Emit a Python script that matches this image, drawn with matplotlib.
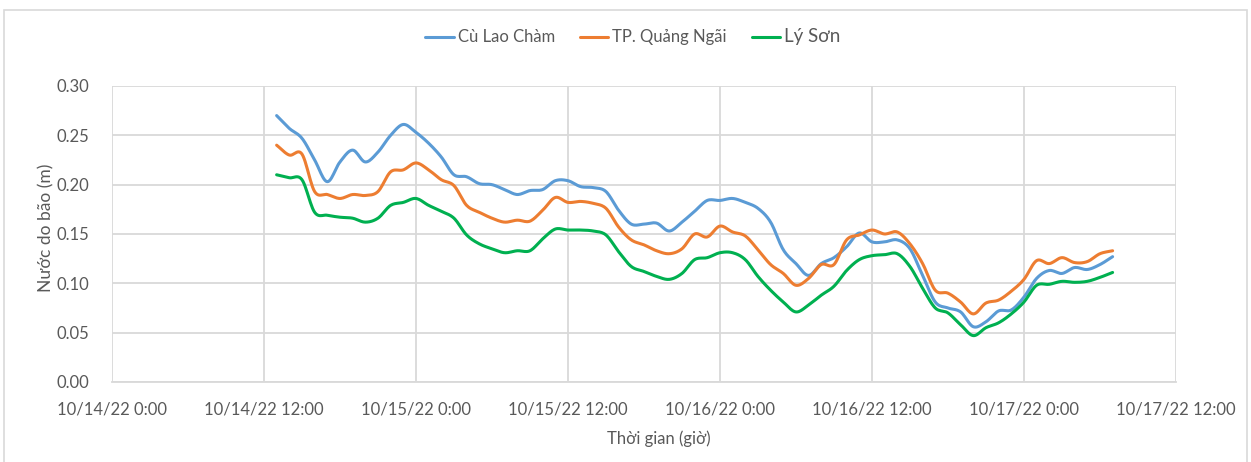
import datetime as dt

import matplotlib.pyplot as plt
import matplotlib.dates as mdates
import numpy as np
from matplotlib.patches import Rectangle

plt.rcParams['font.family'] = ['Lato', 'DejaVu Sans']

# hourly values from 10/14/22 13:00 to 10/17/22 07:00
start_time = dt.datetime(2022, 10, 14, 13)
series_names = ['Cù Lao Chàm', 'TP. Quảng Ngãi', 'Lý Sơn']

cu_lao_cham = [0.270, 0.257, 0.247, 0.225, 0.203, 0.223, 0.235, 0.223, 0.233, 0.250, 0.261, 0.253,
               0.242, 0.228, 0.210, 0.208, 0.201, 0.200, 0.195, 0.190, 0.194, 0.195, 0.204, 0.204,
               0.198, 0.197, 0.193, 0.174, 0.160, 0.160, 0.161, 0.153, 0.162, 0.173, 0.184, 0.184,
               0.186, 0.182, 0.176, 0.162, 0.134, 0.120, 0.108, 0.120, 0.126, 0.137, 0.151, 0.142,
               0.142, 0.144, 0.135, 0.108, 0.081, 0.075, 0.071, 0.056, 0.061, 0.072, 0.073, 0.086,
               0.105, 0.113, 0.110, 0.116, 0.114, 0.119, 0.127]

quang_ngai = [0.240, 0.230, 0.231, 0.193, 0.190, 0.186, 0.190, 0.189, 0.193, 0.213, 0.215, 0.222,
              0.215, 0.205, 0.199, 0.179, 0.172, 0.166, 0.162, 0.164, 0.163, 0.174, 0.187, 0.182,
              0.183, 0.181, 0.176, 0.157, 0.144, 0.139, 0.133, 0.130, 0.135, 0.150, 0.147, 0.158,
              0.152, 0.148, 0.134, 0.119, 0.110, 0.098, 0.105, 0.119, 0.119, 0.144, 0.149, 0.154,
              0.150, 0.152, 0.140, 0.120, 0.093, 0.090, 0.081, 0.069, 0.080, 0.083, 0.092, 0.104,
              0.123, 0.120, 0.126, 0.121, 0.122, 0.130, 0.133]

ly_son = [0.210, 0.207, 0.205, 0.172, 0.169, 0.167, 0.166, 0.162, 0.166, 0.179, 0.182, 0.186,
          0.179, 0.173, 0.166, 0.149, 0.140, 0.135, 0.131, 0.133, 0.133, 0.145, 0.155, 0.154,
          0.154, 0.153, 0.149, 0.132, 0.117, 0.112, 0.107, 0.104, 0.110, 0.124, 0.126, 0.131,
          0.131, 0.124, 0.107, 0.093, 0.081, 0.071, 0.078, 0.088, 0.097, 0.113, 0.124, 0.128,
          0.129, 0.130, 0.117, 0.095, 0.075, 0.070, 0.058, 0.047, 0.055, 0.060, 0.069, 0.081,
          0.098, 0.099, 0.102, 0.101, 0.102, 0.106, 0.111]

colors = ['#5B9BD5', '#ED7D31', '#00B050']


def smooth(x, y, steps=12):
    # Catmull-Rom curve through the points, like Excel's smoothed line
    x = np.asarray(x, float)
    y = np.asarray(y, float)
    px = np.concatenate([[2 * x[0] - x[1]], x, [2 * x[-1] - x[-2]]])
    py = np.concatenate([[2 * y[0] - y[1]], y, [2 * y[-1] - y[-2]]])
    t = np.linspace(0, 1, steps, endpoint=False)
    xs, ys = [], []
    for i in range(1, len(px) - 2):
        for p, out in ((px, xs), (py, ys)):
            p0, p1, p2, p3 = p[i - 1], p[i], p[i + 1], p[i + 2]
            out.append(0.5 * (2 * p1 + (-p0 + p2) * t
                              + (2 * p0 - 5 * p1 + 4 * p2 - p3) * t ** 2
                              + (-p0 + 3 * p1 - 3 * p2 + p3) * t ** 3))
    xs.append([x[-1]])
    ys.append([y[-1]])
    return np.concatenate(xs), np.concatenate(ys)


times = [start_time + dt.timedelta(hours=i) for i in range(len(cu_lao_cham))]
xnum = mdates.date2num(times)

fig = plt.figure(figsize=(12.51, 4.62), dpi=100)
ax = fig.add_axes([0.0895, 0.1732, 0.8505, 0.6407])

# chart area border
fig.patches.append(Rectangle((0.003, -0.01), 0.994, 0.988, transform=fig.transFigure,
                             fill=False, edgecolor='#d9d9d9', linewidth=1.2))

for name, vals, c in zip(series_names, [cu_lao_cham, quang_ngai, ly_son], colors):
    sx, sy = smooth(xnum, vals)
    ax.plot(sx, sy, color=c, linewidth=2.2, label=name, solid_capstyle='round')

ax.set_xlim(mdates.date2num(dt.datetime(2022, 10, 14, 0)),
            mdates.date2num(dt.datetime(2022, 10, 17, 12)))
ax.set_ylim(0, 0.30)
ax.set_yticks(np.arange(0, 0.31, 0.05))
ax.yaxis.set_major_formatter(plt.FuncFormatter(lambda v, p: f'{v:.2f}'))

xt = [dt.datetime(2022, 10, 14) + dt.timedelta(hours=12 * k) for k in range(8)]
ax.set_xticks(mdates.date2num(xt))
ax.set_xticklabels([f'{d.month}/{d.day}/{d:%y} {d.hour}:{d:%M}' for d in xt])

ax.grid(True, color='#d9d9d9', linewidth=1.3)
ax.set_axisbelow(True)
for side in ['top', 'right', 'left']:
    ax.spines[side].set_visible(False)
ax.spines['bottom'].set_color('#d9d9d9')
ax.spines['bottom'].set_linewidth(1.3)
ax.tick_params(axis='both', length=0, labelsize=12, labelcolor='#595959')
ax.tick_params(axis='x', pad=14)
ax.tick_params(axis='y', pad=16)

fig.text(0.527, 0.05, 'Thời gian (giờ)', ha='center', va='center', fontsize=12, color='#595959')
fig.text(0.037, 0.507, 'Nước do bão (m)', ha='center', va='center', rotation=90,
         fontsize=12.5, color='#595959')

leg = fig.legend(loc='center', bbox_to_anchor=(0.506, 0.92), ncol=3, frameon=False,
                 fontsize=12, handlelength=1.7, columnspacing=1.5, handletextpad=0.25)
for t in leg.get_texts():
    t.set_color('#595959')
leg.get_texts()[2].set_fontsize(13.5)

fig.savefig('out.png', dpi=100)
